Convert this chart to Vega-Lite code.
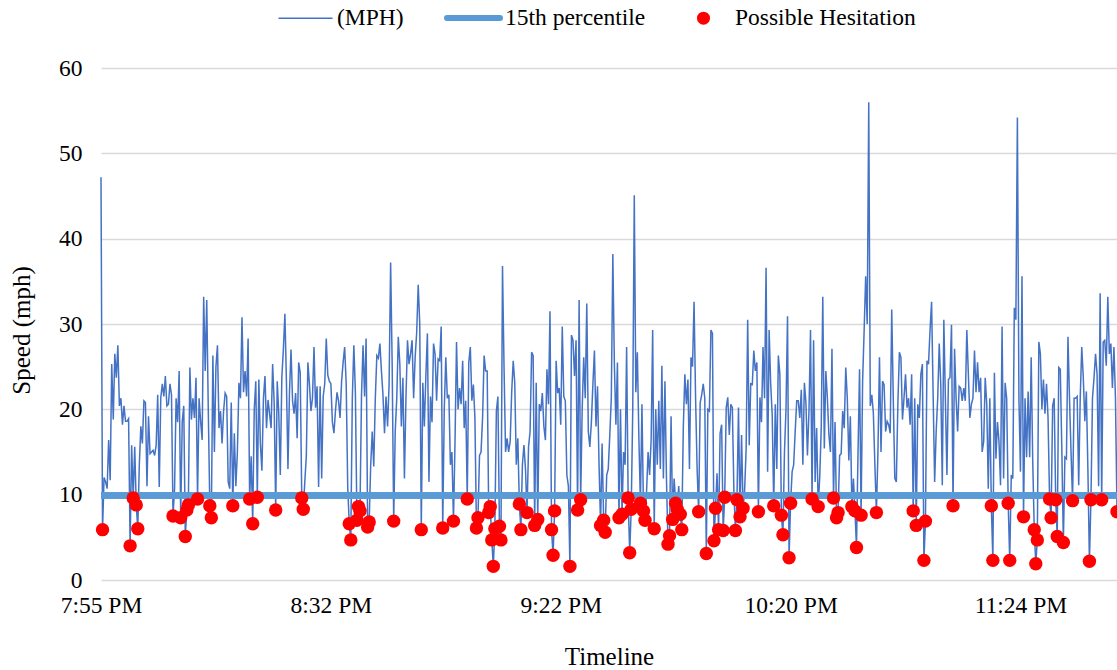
{
"$schema": "https://vega.github.io/schema/vega-lite/v6.json",
"width": 1016, "height": 512,
"autosize": {"type": "none"},
"padding": {"left": 101, "top": 68, "right": 0, "bottom": 90},
"background": "white",
"config": {"view": {"stroke": null}, "font": "Liberation Serif",
  "axis": {"labelFont": "Liberation Serif", "titleFont": "Liberation Serif"},
  "legend": {"labelFont": "Liberation Serif"}},
"data": {"values": [
{"i":0,"v":47.2},{"i":1,"v":5.9},{"i":2,"v":12},{"i":3,"v":11.5},{"i":4,"v":10.7},{"i":5,"v":16.4},{"i":6,"v":11.7},{"i":7,"v":25.3},{"i":8,"v":18.8},{"i":9,"v":26.5},
{"i":10,"v":23.7},{"i":11,"v":27.5},{"i":12,"v":20.4},{"i":13,"v":21.3},{"i":14,"v":18.2},{"i":15,"v":20.4},{"i":16,"v":18.6},{"i":17,"v":18.6},{"i":18,"v":18.9},{"i":19,"v":4.0},
{"i":20,"v":15.8},{"i":21,"v":9.6},{"i":22,"v":15.6},{"i":23,"v":8.8},{"i":24,"v":6.0},{"i":25,"v":13.5},{"i":26,"v":18},{"i":27,"v":16},{"i":28,"v":21},{"i":29,"v":20.8},
{"i":30,"v":11},{"i":31,"v":19.2},{"i":32,"v":14.8},{"i":33,"v":15},{"i":34,"v":15.2},{"i":35,"v":14.6},{"i":36,"v":15.8},{"i":37,"v":21.7},{"i":38,"v":10.9},{"i":39,"v":21.3},
{"i":40,"v":23},{"i":41,"v":21.5},{"i":42,"v":23.9},{"i":43,"v":20.4},{"i":44,"v":20.6},{"i":45,"v":23},{"i":46,"v":21.7},{"i":47,"v":7.5},{"i":48,"v":10.7},{"i":49,"v":21.3},
{"i":50,"v":18.5},{"i":51,"v":24.5},{"i":52,"v":7.3},{"i":53,"v":18.5},{"i":54,"v":20.4},{"i":55,"v":5.1},{"i":56,"v":8.2},{"i":57,"v":8.8},{"i":58,"v":24.9},{"i":59,"v":18.8},
{"i":60,"v":21.3},{"i":61,"v":19},{"i":62,"v":23.7},{"i":63,"v":9.5},{"i":64,"v":21.3},{"i":65,"v":18.6},{"i":66,"v":16.4},{"i":67,"v":33.2},{"i":68,"v":24.5},{"i":69,"v":32.8},
{"i":70,"v":20},{"i":71,"v":8.7},{"i":72,"v":7.3},{"i":73,"v":26.3},{"i":74,"v":15},{"i":75,"v":25},{"i":76,"v":27.5},{"i":77,"v":17.8},{"i":78,"v":19.8},{"i":79,"v":16},
{"i":80,"v":19.8},{"i":81,"v":21.9},{"i":82,"v":21.5},{"i":83,"v":11.5},{"i":84,"v":10.7},{"i":85,"v":20.8},{"i":86,"v":8.7},{"i":87,"v":17.2},{"i":88,"v":11},{"i":89,"v":15},
{"i":90,"v":23.1},{"i":91,"v":21.3},{"i":92,"v":30.8},{"i":93,"v":22},{"i":94,"v":24.5},{"i":95,"v":21.5},{"i":96,"v":28.3},{"i":97,"v":9.5},{"i":98,"v":14.5},{"i":99,"v":6.6},
{"i":100,"v":20},{"i":101,"v":23.3},{"i":102,"v":9.7},{"i":103,"v":23.5},{"i":104,"v":16},{"i":105,"v":12.8},{"i":106,"v":21.3},{"i":107,"v":23.9},{"i":108,"v":17.8},{"i":109,"v":21.1},
{"i":110,"v":19.5},{"i":111,"v":17.8},{"i":112,"v":25.3},{"i":113,"v":20.8},{"i":114,"v":8.2},{"i":115,"v":23.3},{"i":116,"v":19.5},{"i":117,"v":12.3},{"i":118,"v":23.7},{"i":119,"v":27},
{"i":120,"v":31.2},{"i":121,"v":23.3},{"i":122,"v":13},{"i":123,"v":22},{"i":124,"v":27},{"i":125,"v":21},{"i":126,"v":19.5},{"i":127,"v":21.9},{"i":128,"v":16.6},{"i":129,"v":25.5},
{"i":130,"v":24.3},{"i":131,"v":9.6},{"i":132,"v":8.3},{"i":133,"v":11.5},{"i":134,"v":14.6},{"i":135,"v":25.5},{"i":136,"v":23},{"i":137,"v":19.8},{"i":138,"v":21.3},{"i":139,"v":27.3},
{"i":140,"v":20.2},{"i":141,"v":22.7},{"i":142,"v":10.9},{"i":143,"v":22.7},{"i":144,"v":11.9},{"i":145,"v":21.5},{"i":146,"v":23},{"i":147,"v":28.3},{"i":148,"v":24},{"i":149,"v":23.3},
{"i":150,"v":23},{"i":151,"v":18.5},{"i":152,"v":17.2},{"i":153,"v":19.8},{"i":154,"v":22},{"i":155,"v":21},{"i":156,"v":19},{"i":157,"v":23.3},{"i":158,"v":25.5},{"i":159,"v":27.3},
{"i":160,"v":23},{"i":161,"v":10.9},{"i":162,"v":6.6},{"i":163,"v":4.7},{"i":164,"v":21.3},{"i":165,"v":27.5},{"i":166,"v":22},{"i":167,"v":7.0},{"i":168,"v":8.6},{"i":169,"v":8.1},
{"i":170,"v":21.7},{"i":171,"v":27.5},{"i":172,"v":21.5},{"i":173,"v":28.3},{"i":174,"v":6.2},{"i":175,"v":6.8},{"i":176,"v":13.5},{"i":177,"v":17.4},{"i":178,"v":13.3},{"i":179,"v":21.3},
{"i":180,"v":26.3},{"i":181,"v":26},{"i":182,"v":27.7},{"i":183,"v":24.5},{"i":184,"v":21.7},{"i":185,"v":17.2},{"i":186,"v":21.5},{"i":187,"v":18},{"i":188,"v":22.9},{"i":189,"v":37.2},
{"i":190,"v":25.3},{"i":191,"v":6.9},{"i":192,"v":17.4},{"i":193,"v":21.3},{"i":194,"v":28.5},{"i":195,"v":25.3},{"i":196,"v":18},{"i":197,"v":23.7},{"i":198,"v":11.9},{"i":199,"v":21.3},
{"i":200,"v":28.1},{"i":201,"v":25.3},{"i":202,"v":26.5},{"i":203,"v":28.1},{"i":204,"v":21.3},{"i":205,"v":26.1},{"i":206,"v":29},{"i":207,"v":34.6},{"i":208,"v":30},{"i":209,"v":5.9},
{"i":210,"v":23.1},{"i":211,"v":18},{"i":212,"v":24},{"i":213,"v":28.9},{"i":214,"v":11.5},{"i":215,"v":21.5},{"i":216,"v":18.5},{"i":217,"v":27.7},{"i":218,"v":26.5},{"i":219,"v":21},
{"i":220,"v":25.9},{"i":221,"v":25.7},{"i":222,"v":29.7},{"i":223,"v":6.1},{"i":224,"v":20},{"i":225,"v":26.1},{"i":226,"v":21.3},{"i":227,"v":21.7},{"i":228,"v":13.5},{"i":229,"v":15},
{"i":230,"v":6.9},{"i":231,"v":16},{"i":232,"v":27.9},{"i":233,"v":20},{"i":234,"v":22.5},{"i":235,"v":20.6},{"i":236,"v":25.7},{"i":237,"v":17.8},{"i":238,"v":21},{"i":239,"v":9.5},
{"i":240,"v":25.5},{"i":241,"v":27.3},{"i":242,"v":21},{"i":243,"v":22.9},{"i":244,"v":19},{"i":245,"v":6.1},{"i":246,"v":7.3},{"i":247,"v":14.6},{"i":248,"v":15},{"i":249,"v":19},
{"i":250,"v":26.3},{"i":251,"v":24.5},{"i":252,"v":24.5},{"i":253,"v":7.9},{"i":254,"v":8.6},{"i":255,"v":4.7},{"i":256,"v":1.6},{"i":257,"v":6.0},{"i":258,"v":19.8},{"i":259,"v":21.5},
{"i":260,"v":6.3},{"i":261,"v":4.7},{"i":262,"v":36.8},{"i":263,"v":25},{"i":264,"v":15},{"i":265,"v":16.6},{"i":266,"v":15},{"i":267,"v":16.2},{"i":268,"v":22},{"i":269,"v":25.7},
{"i":270,"v":23.1},{"i":271,"v":13.5},{"i":272,"v":16.6},{"i":273,"v":8.9},{"i":274,"v":5.9},{"i":275,"v":13.5},{"i":276,"v":15.8},{"i":277,"v":13},{"i":278,"v":7.9},{"i":279,"v":15.6},
{"i":280,"v":17.4},{"i":281,"v":26.7},{"i":282,"v":26.3},{"i":283,"v":6.4},{"i":284,"v":23.1},{"i":285,"v":7.1},{"i":286,"v":20.6},{"i":287,"v":19.8},{"i":288,"v":21.9},{"i":289,"v":18},
{"i":290,"v":16.4},{"i":291,"v":24.7},{"i":292,"v":20.6},{"i":293,"v":31.5},{"i":294,"v":5.9},{"i":295,"v":2.9},{"i":296,"v":8.1},{"i":297,"v":25.7},{"i":298,"v":21.9},{"i":299,"v":22.5},
{"i":300,"v":18.2},{"i":301,"v":29.7},{"i":302,"v":21.5},{"i":303,"v":21},{"i":304,"v":12.3},{"i":305,"v":11},{"i":306,"v":1.6},{"i":307,"v":28.7},{"i":308,"v":28.1},{"i":309,"v":23.9},
{"i":310,"v":28.1},{"i":311,"v":8.2},{"i":312,"v":32.8},{"i":313,"v":9.4},{"i":314,"v":20},{"i":315,"v":26.1},{"i":316,"v":21.3},{"i":317,"v":32.4},{"i":318,"v":17.4},{"i":319,"v":15.6},
{"i":320,"v":18.5},{"i":321,"v":23},{"i":322,"v":26.9},{"i":323,"v":18},{"i":324,"v":22.7},{"i":325,"v":13.5},{"i":326,"v":6.4},{"i":327,"v":16},{"i":328,"v":7.0},{"i":329,"v":5.6},
{"i":330,"v":12.3},{"i":331,"v":13},{"i":332,"v":16.9},{"i":333,"v":21.3},{"i":334,"v":38.2},{"i":335,"v":25.3},{"i":336,"v":18.2},{"i":337,"v":25.5},{"i":338,"v":7.3},{"i":339,"v":20},
{"i":340,"v":7.7},{"i":341,"v":15},{"i":342,"v":13.5},{"i":343,"v":27.3},{"i":344,"v":9.6},{"i":345,"v":3.2},{"i":346,"v":8.3},{"i":347,"v":20},{"i":348,"v":45.1},{"i":349,"v":22},
{"i":350,"v":26.7},{"i":351,"v":16.6},{"i":352,"v":9.0},{"i":353,"v":20.6},{"i":354,"v":8.1},{"i":355,"v":7.0},{"i":356,"v":10.3},{"i":357,"v":15},{"i":358,"v":12.3},{"i":359,"v":16.4},
{"i":360,"v":29.3},{"i":361,"v":6.0},{"i":362,"v":20},{"i":363,"v":13.5},{"i":364,"v":21},{"i":365,"v":13},{"i":366,"v":25.1},{"i":367,"v":11.9},{"i":368,"v":23.3},{"i":369,"v":11.9},
{"i":370,"v":4.2},{"i":371,"v":5.2},{"i":372,"v":19.2},{"i":373,"v":7.1},{"i":374,"v":11.9},{"i":375,"v":9.0},{"i":376,"v":8.3},{"i":377,"v":11},{"i":378,"v":7.7},{"i":379,"v":5.9},
{"i":380,"v":18},{"i":381,"v":24.1},{"i":382,"v":20.6},{"i":383,"v":23.5},{"i":384,"v":13},{"i":385,"v":26.1},{"i":386,"v":25},{"i":387,"v":32.6},{"i":388,"v":21.3},{"i":389,"v":13},
{"i":390,"v":8.0},{"i":391,"v":20.8},{"i":392,"v":21.7},{"i":393,"v":23},{"i":394,"v":21.3},{"i":395,"v":3.1},{"i":396,"v":20},{"i":397,"v":19.8},{"i":398,"v":29.3},{"i":399,"v":28.9},
{"i":400,"v":4.6},{"i":401,"v":8.4},{"i":402,"v":12.5},{"i":403,"v":5.9},{"i":404,"v":17.2},{"i":405,"v":18.2},{"i":406,"v":5.8},{"i":407,"v":9.7},{"i":408,"v":20.2},{"i":409,"v":21.4},
{"i":410,"v":17},{"i":411,"v":20.6},{"i":412,"v":20.2},{"i":413,"v":10.4},{"i":414,"v":5.8},{"i":415,"v":9.4},{"i":416,"v":20.2},{"i":417,"v":7.4},{"i":418,"v":17},{"i":419,"v":8.4},
{"i":420,"v":10.5},{"i":421,"v":15.4},{"i":422,"v":30.5},{"i":423,"v":15.8},{"i":424,"v":23},{"i":425,"v":22.9},{"i":426,"v":26.9},{"i":427,"v":24.5},{"i":428,"v":25.5},{"i":429,"v":8.0},
{"i":430,"v":21.4},{"i":431,"v":18.5},{"i":432,"v":27.3},{"i":433,"v":21.3},{"i":434,"v":36.6},{"i":435,"v":12.7},{"i":436,"v":29.3},{"i":437,"v":23},{"i":438,"v":19.4},{"i":439,"v":8.7},
{"i":440,"v":20.6},{"i":441,"v":13},{"i":442,"v":26.3},{"i":443,"v":24.1},{"i":444,"v":7.6},{"i":445,"v":5.3},{"i":446,"v":15},{"i":447,"v":20},{"i":448,"v":30.9},{"i":449,"v":2.6},
{"i":450,"v":9.0},{"i":451,"v":12.7},{"i":452,"v":13.5},{"i":453,"v":17.4},{"i":454,"v":21},{"i":455,"v":21},{"i":456,"v":19},{"i":457,"v":22.3},{"i":458,"v":13.5},{"i":459,"v":23.1},
{"i":460,"v":20.8},{"i":461,"v":14.6},{"i":462,"v":19.8},{"i":463,"v":29.3},{"i":464,"v":9.5},{"i":465,"v":28.1},{"i":466,"v":11.5},{"i":467,"v":17.8},{"i":468,"v":8.6},{"i":469,"v":12},
{"i":470,"v":17.8},{"i":471,"v":33.2},{"i":472,"v":15.4},{"i":473,"v":24.5},{"i":474,"v":21.3},{"i":475,"v":17},{"i":476,"v":15},{"i":477,"v":27.1},{"i":478,"v":9.6},{"i":479,"v":18.5},
{"i":480,"v":7.3},{"i":481,"v":7.9},{"i":482,"v":14.6},{"i":483,"v":14.8},{"i":484,"v":19.8},{"i":485,"v":17.8},{"i":486,"v":24.9},{"i":487,"v":21.3},{"i":488,"v":14},{"i":489,"v":19.2},
{"i":490,"v":8.6},{"i":491,"v":11.9},{"i":492,"v":8.1},{"i":493,"v":3.8},{"i":494,"v":15},{"i":495,"v":24.7},{"i":496,"v":7.6},{"i":497,"v":23.3},{"i":498,"v":29.3},{"i":499,"v":35.6},
{"i":500,"v":30},{"i":501,"v":56},{"i":502,"v":20.4},{"i":503,"v":21.7},{"i":504,"v":19.6},{"i":505,"v":13.5},{"i":506,"v":7.9},{"i":507,"v":15},{"i":508,"v":26.1},{"i":509,"v":15},
{"i":510,"v":23.3},{"i":511,"v":22.9},{"i":512,"v":17.4},{"i":513,"v":18.6},{"i":514,"v":18.2},{"i":515,"v":17.2},{"i":516,"v":31.7},{"i":517,"v":21.3},{"i":518,"v":11.9},{"i":519,"v":11.5},
{"i":520,"v":20.6},{"i":521,"v":26.7},{"i":522,"v":26.1},{"i":523,"v":18.8},{"i":524,"v":21.3},{"i":525,"v":24.1},{"i":526,"v":20.2},{"i":527,"v":21.3},{"i":528,"v":18.2},{"i":529,"v":24.1},
{"i":530,"v":8.1},{"i":531,"v":21.3},{"i":532,"v":6.4},{"i":533,"v":20.6},{"i":534,"v":19},{"i":535,"v":24.1},{"i":536,"v":25.3},{"i":537,"v":2.3},{"i":538,"v":6.9},{"i":539,"v":25.7},
{"i":540,"v":25.3},{"i":541,"v":29.3},{"i":542,"v":32.6},{"i":543,"v":21.9},{"i":544,"v":11.5},{"i":545,"v":17.4},{"i":546,"v":21.3},{"i":547,"v":27.7},{"i":548,"v":22.9},{"i":549,"v":11.1},
{"i":550,"v":30.5},{"i":551,"v":21.3},{"i":552,"v":12.3},{"i":553,"v":23.5},{"i":554,"v":23.7},{"i":555,"v":29.9},{"i":556,"v":8.7},{"i":557,"v":27.1},{"i":558,"v":21.3},{"i":559,"v":17.4},
{"i":560,"v":22.7},{"i":561,"v":22.5},{"i":562,"v":21},{"i":563,"v":22.5},{"i":564,"v":21},{"i":565,"v":29.3},{"i":566,"v":24.1},{"i":567,"v":19},{"i":568,"v":20.6},{"i":569,"v":21.3},
{"i":570,"v":26.9},{"i":571,"v":22},{"i":572,"v":25.5},{"i":573,"v":22},{"i":574,"v":23.7},{"i":575,"v":15},{"i":576,"v":16.2},{"i":577,"v":23.7},{"i":578,"v":20.6},{"i":579,"v":10.7},
{"i":580,"v":21.3},{"i":581,"v":8.7},{"i":582,"v":2.3},{"i":583,"v":24.3},{"i":584,"v":14.2},{"i":585,"v":18.5},{"i":586,"v":16.2},{"i":587,"v":11.1},{"i":588,"v":29.7},{"i":589,"v":11.9},
{"i":590,"v":23.1},{"i":591,"v":21.3},{"i":592,"v":9.0},{"i":593,"v":2.3},{"i":594,"v":12.3},{"i":595,"v":11.9},{"i":596,"v":31.9},{"i":597,"v":30.5},{"i":598,"v":54.2},{"i":599,"v":21.3},
{"i":600,"v":12.7},{"i":601,"v":35.6},{"i":602,"v":7.4},{"i":603,"v":21.3},{"i":604,"v":14.4},{"i":605,"v":22.1},{"i":606,"v":14.4},{"i":607,"v":26.1},{"i":608,"v":14},{"i":609,"v":5.9},
{"i":610,"v":1.9},{"i":611,"v":4.7},{"i":612,"v":27.9},{"i":613,"v":26.5},{"i":614,"v":20},{"i":615,"v":23.5},{"i":616,"v":19.5},{"i":617,"v":23},{"i":618,"v":19},{"i":619,"v":9.5},
{"i":620,"v":7.3},{"i":621,"v":20.4},{"i":622,"v":21.3},{"i":623,"v":9.4},{"i":624,"v":5.1},{"i":625,"v":24.9},{"i":626,"v":24.7},{"i":627,"v":15.2},{"i":628,"v":4.4},{"i":629,"v":14.4},
{"i":630,"v":14.2},{"i":631,"v":28.5},{"i":632,"v":21.3},{"i":633,"v":15},{"i":634,"v":9.3},{"i":635,"v":21.3},{"i":636,"v":21.3},{"i":637,"v":21.5},{"i":638,"v":11.1},{"i":639,"v":21.3},
{"i":640,"v":27.3},{"i":641,"v":23.7},{"i":642,"v":18.6},{"i":643,"v":22.1},{"i":644,"v":13},{"i":645,"v":2.2},{"i":646,"v":9.4},{"i":647,"v":21.3},{"i":648,"v":23.7},{"i":649,"v":26.5},
{"i":650,"v":24.1},{"i":651,"v":11},{"i":652,"v":33.6},{"i":653,"v":9.4},{"i":654,"v":27.9},{"i":655,"v":28.1},{"i":656,"v":25.1},{"i":657,"v":33.2},{"i":658,"v":26.5},{"i":659,"v":27.7},
{"i":660,"v":22.5},{"i":661,"v":27.3},{"i":662,"v":21.3},{"i":663,"v":8.0}
]},
"layer": [
  {"mark": {"type": "line", "strokeWidth": 1.5},
   "encoding": {
    "x": {"field": "i", "type": "quantitative",
      "scale": {"domain": [0, 663], "nice": false, "zero": false},
      "axis": {"values": [0, 150, 300, 450, 600],
        "labelExpr": "datum.value == 0 ? '7:55 PM' : datum.value == 150 ? '8:32 PM' : datum.value == 300 ? '9:22 PM' : datum.value == 450 ? '10:20 PM' : '11:24 PM'",
        "title": "Timeline", "grid": false, "domain": false, "ticks": false,
        "labelPadding": 13, "titlePadding": 28, "labelFontSize": 23.5, "titleFontSize": 25,
        "labelFont": "Liberation Serif", "titleFont": "Liberation Serif",
        "labelColor": "#000000", "titleColor": "#000000", "titleFontWeight": "normal",
        "labelFlush": false, "labelOverlap": false}},
    "y": {"field": "v", "type": "quantitative",
      "scale": {"domain": [0, 60], "nice": false},
      "axis": {"values": [0, 10, 20, 30, 40, 50, 60], "title": "Speed (mph)",
        "grid": true, "gridColor": "#D9D9D9", "gridWidth": 1.5, "domain": false, "ticks": false,
        "labelPadding": 19, "labelFontSize": 23.5, "titleFontSize": 25,
        "labelFont": "Liberation Serif", "titleFont": "Liberation Serif",
        "labelColor": "#000000", "titleColor": "#000000", "titleFontWeight": "normal",
        "titlePadding": 24, "titleY": 262}},
    "color": {"datum": "(MPH)",
     "scale": {"domain": ["(MPH)", "15th percentile", "Possible Hesitation"], "range": ["#4472C4", "#5B9BD5", "#FF0000"]},
     "legend": {"orient": "none", "legendX": 178, "legendY": -62, "direction": "horizontal", "title": null,
       "labelFontSize": 23.5, "labelFont": "Liberation Serif", "labelColor": "#000000", "labelLimit": 400,
       "symbolSize": 2809, "symbolStrokeWidth": 1.5, "labelOffset": 5, "columnPadding": 31, "padding": 0,
       "encode": {
        "labels": {"update": {"x": {"value": 58}, "font": {"value": "Liberation Serif"}}},
        "symbols": {"update": {
         "x": {"value": 26.5},
         "shape": {"signal": "datum.value === 'Possible Hesitation' ? 'circle' : 'stroke'"},
         "size": {"signal": "datum.value === 'Possible Hesitation' ? 169 : 2809"},
         "strokeWidth": {"signal": "datum.value === '15th percentile' ? 6 : (datum.value === '(MPH)' ? 1.5 : 0)"},
         "fill": {"signal": "datum.value === 'Possible Hesitation' ? '#FF0000' : 'transparent'"},
         "stroke": {"signal": "datum.value === '(MPH)' ? '#4472C4' : (datum.value === '15th percentile' ? '#5B9BD5' : '#FF0000')"},
         "opacity": {"value": 1},
         "strokeCap": {"value": "round"}
       }}}}}}},
  {"mark": {"type": "rule", "strokeWidth": 5.5},
   "encoding": {"y": {"datum": 9.9}, "color": {"datum": "15th percentile"}}},
  {"transform": [{"filter": "datum.v < 10"}],
   "mark": {"type": "point", "filled": true, "size": 180, "opacity": 1},
   "encoding": {
     "x": {"field": "i", "type": "quantitative"},
     "y": {"field": "v", "type": "quantitative"},
     "color": {"datum": "Possible Hesitation"}}}
]
}
